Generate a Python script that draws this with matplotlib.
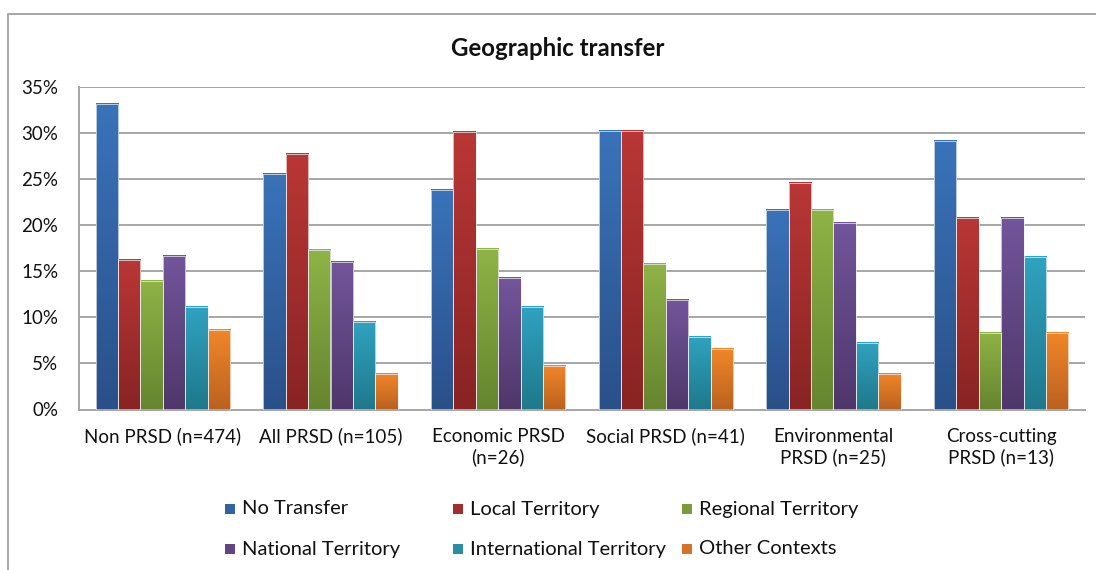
import numpy as np
import matplotlib
matplotlib.use("Agg")
import matplotlib.pyplot as plt
from matplotlib.patches import Rectangle
from matplotlib.lines import Line2D
from matplotlib.colors import to_rgb

plt.rcParams["font.family"] = ["Lato", "DejaVu Sans"]

categories = [
    "Non PRSD (n=474)",
    "All PRSD (n=105)",
    "Economic PRSD\n(n=26)",
    "Social PRSD (n=41)",
    "Environmental\nPRSD (n=25)",
    "Cross-cutting\nPRSD (n=13)",
]

series = [
    "No Transfer", "Local Territory", "Regional Territory",
    "National Territory", "International Territory", "Other Contexts",
]

# shares per category, in percent
no_transfer   = [33.2, 25.6, 23.8, 30.2, 21.7, 29.1]
local         = [16.2, 27.7, 30.1, 30.2, 24.6, 20.8]
regional      = [14.0, 17.3, 17.4, 15.8, 21.7, 8.3]
national      = [16.7, 16.0, 14.3, 11.9, 20.2, 20.8]
international = [11.1, 9.5, 11.1, 7.9, 7.2, 16.6]
other         = [8.6, 3.9, 4.7, 6.6, 3.9, 8.3]

yticks = [0, 5, 10, 15, 20, 25, 30, 35]

values = [no_transfer, local, regional, national, international, other]

# (top colour, bottom colour) for the Excel-style gradient
COLORS = [
    ("#3A73BA", "#2A5089"),
    ("#B93736", "#882423"),
    ("#8EB346", "#66852F"),
    ("#72559B", "#4F376B"),
    ("#30A2C0", "#1F798B"),
    ("#F18629", "#BB6220"),
]


def gradient(top, bottom, n=64):
    t = np.linspace(0, 1, n)[:, None]
    a, b = np.array(to_rgb(top)), np.array(to_rgb(bottom))
    return (a * (1 - t) + b * t).reshape(n, 1, 3)


fig = plt.figure(figsize=(10.96, 5.70), dpi=100)
ax = fig.add_axes([79 / 1096, 1 - 409.5 / 570, (1085 - 79) / 1096, (409.5 - 87) / 570])

n_series = len(series)
width = 0.8 / n_series
x = np.arange(len(categories))

for i, (vals, (top, bottom)) in enumerate(zip(values, COLORS)):
    xs = x + (i - (n_series - 1) / 2) * width
    bars = ax.bar(xs, vals, width, color="none", edgecolor="#f0f0f0", linewidth=0.5, zorder=3)
    grad = gradient(top, bottom)
    for b in bars:
        x0, y0 = b.get_x(), b.get_y()
        ax.imshow(grad, extent=(x0, x0 + b.get_width(), y0, y0 + b.get_height()),
                  aspect="auto", origin="upper", zorder=2, interpolation="bilinear")

ax.set_xlim(-0.5, len(categories) - 0.5)
ax.set_ylim(0, 35)
ax.set_yticks(yticks)
ax.set_yticklabels([f"{t}%" for t in yticks])
ax.set_xticks(x)
ax.set_xticklabels(categories, linespacing=1.25)
ax.tick_params(axis="y", length=0, pad=15, labelsize=13.5, colors="#111111")
ax.tick_params(axis="x", length=0, pad=13, labelsize=13.5, colors="#111111")
ax.grid(axis="y", color="#a6a6a6", lw=1.4, zorder=0)
ax.set_axisbelow(True)
for side in ["top", "right"]:
    ax.spines[side].set_visible(False)
for side in ["left", "bottom"]:
    ax.spines[side].set_color("#a6a6a6")
    ax.spines[side].set_linewidth(1.4)

fig.text(558 / 1096, 1 - 48 / 570, "Geographic transfer", ha="center", va="center",
         fontsize=17.3, fontweight="bold", color="#111111")

# legend laid out like the Excel one: 3 columns, 2 rows
col_x = [225, 453, 682]
row_y = [509, 549]
for k, name in enumerate(series):
    cx = col_x[k % 3]
    cy = row_y[k // 3]
    top, bottom = COLORS[k]
    mid = tuple((np.array(to_rgb(top)) + np.array(to_rgb(bottom))) / 2)
    fig.add_artist(Rectangle((cx / 1096, 1 - (cy + 5) / 570), 10 / 1096, 10 / 570,
                             transform=fig.transFigure, facecolor=mid, edgecolor="none"))
    fig.text((cx + 17) / 1096, 1 - cy / 570, name, ha="left", va="center",
             fontsize=14.5, color="#111111")

# outer chart frame
fig.add_artist(Line2D([8 / 1096, 8 / 1096, 1.0], [0.0, 1 - 14 / 570, 1 - 14 / 570],
                      transform=fig.transFigure, color="#a6a6a6", lw=1.4))

fig.savefig("out.png", dpi=100)
